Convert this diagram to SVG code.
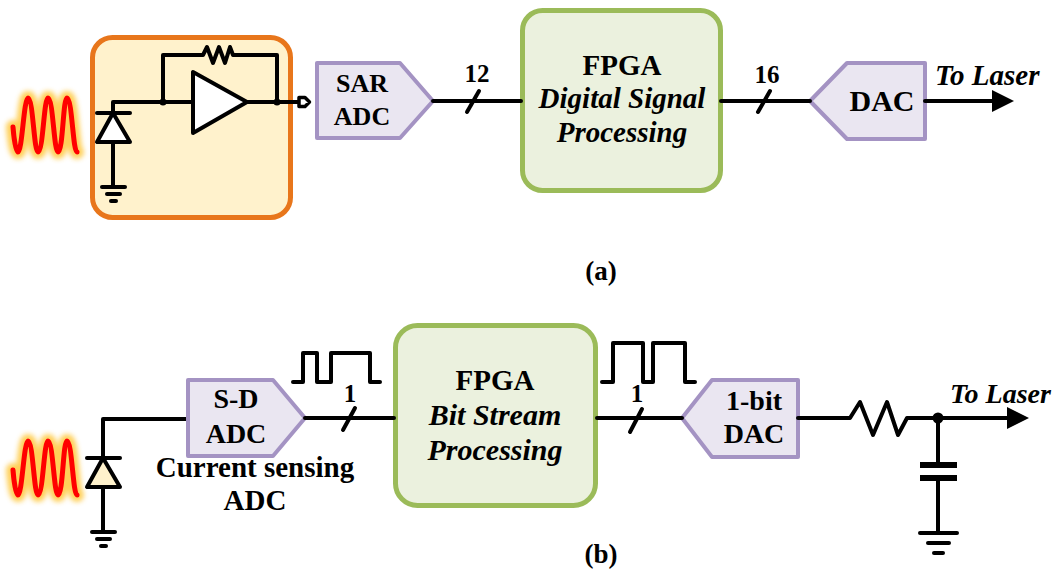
<svg xmlns="http://www.w3.org/2000/svg" width="1060" height="571" viewBox="0 0 1060 571">
  <style>
    .wire { fill: none; stroke: #000; stroke-width: 4; stroke-linejoin: round; stroke-linecap: round; }
    .gnd { stroke: #000; stroke-width: 4; stroke-linecap: round; }
    .conv { fill: #EAE6F1; stroke: #A493C3; stroke-width: 4; stroke-linejoin: round; }
    .fpga { fill: #EBF1DE; stroke: #9BBB59; stroke-width: 5; }
    .tia { fill: #FFF2CC; stroke: #E8761B; stroke-width: 5; }
    .glow { fill: none; stroke: #FFC83D; stroke-width: 14; stroke-linejoin: round; stroke-linecap: round; opacity: 0.85; }
    .wave { fill: none; stroke: #FF0000; stroke-width: 5; stroke-linejoin: round; stroke-linecap: round; }
    text { font-family: 'Liberation Serif', 'Times New Roman', serif; font-weight: 700; text-anchor: middle; fill: #000; }
    .it { font-style: italic; }
    .start { text-anchor: start; }
  </style>
  <defs>
    <filter id="soft" x="-30%" y="-30%" width="160%" height="160%">
      <feGaussianBlur stdDeviation="2.5"/>
    </filter>
    <path id="sine" d="M13,127 C14,140 16,152 18,152 C22,152 24,98 28,98 C33,98 34,152 38,152 C43,152 44,98 48,98 C53,98 54,152 58,152 C63,152 63,98 67,98 C72,98 73,152 77,152"/>
  </defs>

  <!-- (a) incoming light -->
  <g id="light-a">
    <use href="#sine" class="glow" filter="url(#soft)"/>
    <use href="#sine" class="wave"/>
  </g>

  <!-- (a) transimpedance front end -->
  <g id="tia">
    <rect class="tia" x="92.5" y="37.5" width="198" height="180" rx="20"/>
    <path class="wire" d="M113,113 V102 H193"/>
    <path class="wire" d="M113,142 V187"/>
    <polygon points="113,113 97,142 130,142" fill="#fff" stroke="#000" stroke-width="4" stroke-linejoin="round"/>
    <line class="gnd" x1="97" y1="113" x2="130" y2="113"/>
    <line class="gnd" x1="102" y1="187" x2="125" y2="187"/>
    <line class="gnd" x1="107" y1="194" x2="120" y2="194"/>
    <line class="gnd" x1="111" y1="201" x2="116" y2="201"/>
    <path class="wire" d="M163,102 V55 H203 L207,47 L213,63 L219,47 L225,63 L230,47 L233,55 H277 V102"/>
    <polygon points="193,72 193,133 247,102" fill="#fff" stroke="#000" stroke-width="4" stroke-linejoin="round"/>
    <path class="wire" d="M247,102 H299"/>
    <circle cx="163" cy="102" r="3.5"/>
    <circle cx="277" cy="102" r="3.5"/>
    <path d="M299,97.5 H305 L309.5,102 L305,106.5 H299 Z" fill="#fff" stroke="#000" stroke-width="3.5" stroke-linejoin="round"/>
  </g>

  <!-- (a) SAR ADC -->
  <g id="sar-adc">
    <polygon class="conv" points="317,63 400,63 433,101 400,138 317,138"/>
    <text x="362" y="92" font-size="26">SAR</text>
    <text x="362" y="125" font-size="26">ADC</text>
  </g>

  <!-- (a) FPGA -->
  <g id="fpga-a">
    <rect class="fpga" x="522.5" y="10.5" width="198" height="180" rx="20"/>
    <text x="622" y="75" font-size="29">FPGA</text>
    <text class="it" x="622" y="108" font-size="29">Digital Signal</text>
    <text class="it" x="622" y="142" font-size="29">Processing</text>
  </g>

  <!-- (a) DAC -->
  <g id="dac-a">
    <polygon class="conv" points="810,101 847,63 925,63 925,139 847,139"/>
    <text x="882" y="111" font-size="30">DAC</text>
  </g>

  <!-- (b) incoming light -->
  <g id="light-b" transform="translate(0,343)">
    <use href="#sine" class="glow" filter="url(#soft)"/>
    <use href="#sine" class="wave"/>
  </g>

  <!-- (b) photodiode -->
  <g id="photodiode-b">
    <path class="wire" d="M103,458 V419 H188"/>
    <path class="wire" d="M103,487 V532"/>
    <polygon points="103,458 87,487 120,487" fill="#FFF2CC" stroke="#000" stroke-width="4" stroke-linejoin="round"/>
    <line class="gnd" x1="87" y1="458" x2="120" y2="458"/>
    <line class="gnd" x1="92" y1="532" x2="115" y2="532"/>
    <line class="gnd" x1="97" y1="539" x2="110" y2="539"/>
    <line class="gnd" x1="101" y1="546" x2="106" y2="546"/>
  </g>

  <!-- (b) delta-sigma ADC -->
  <g id="sd-adc">
    <polygon class="conv" points="188,380 273,380 305,418 273,456 188,456"/>
    <text x="236" y="408" font-size="28">S-D</text>
    <text x="236" y="443" font-size="28">ADC</text>
    <text x="255" y="477" font-size="29">Current sensing</text>
    <text x="255" y="510" font-size="29">ADC</text>
  </g>

  <!-- (b) FPGA -->
  <g id="fpga-b">
    <rect class="fpga" x="395.5" y="325.5" width="200" height="180" rx="22"/>
    <text x="495" y="390" font-size="29">FPGA</text>
    <text class="it" x="495" y="425" font-size="30">Bit Stream</text>
    <text class="it" x="495" y="460" font-size="30">Processing</text>
  </g>

  <!-- (b) 1-bit DAC -->
  <g id="dac-b">
    <polygon class="conv" points="682,418 712,380 798,380 798,457 712,457"/>
    <text x="754" y="410" font-size="28">1-bit</text>
    <text x="754" y="443" font-size="28">DAC</text>
  </g>

  <!-- (b) RC output filter -->
  <g id="rc-filter">
    <path class="wire" d="M938,418 V465"/>
    <path class="wire" d="M938,478 V533"/>
    <line x1="920" y1="465" x2="957" y2="465" stroke="#000" stroke-width="6"/>
    <line x1="920" y1="478" x2="957" y2="478" stroke="#000" stroke-width="6"/>
    <line class="gnd" x1="920" y1="533" x2="957" y2="533"/>
    <line class="gnd" x1="928" y1="543" x2="949" y2="543"/>
    <line class="gnd" x1="934" y1="553" x2="943" y2="553"/>
    <circle cx="938" cy="418" r="5.5"/>
  </g>

  <!-- connectors, bus ticks and waveforms -->
  <g id="connectors">
    <path class="wire" d="M433,101 H521"/>
    <line class="wire" x1="467" y1="112" x2="479" y2="91"/>
    <text x="477" y="82" font-size="25">12</text>

    <path class="wire" d="M721,101 H810"/>
    <line class="wire" x1="758" y1="112" x2="770" y2="91"/>
    <text x="767" y="83" font-size="25">16</text>

    <path class="wire" d="M925,101 H993"/>
    <polygon points="992,90 1014,101 992,112"/>
    <text class="it start" x="935" y="85" font-size="29">To Laser</text>

    <path class="wire" d="M305,418 H394"/>
    <line class="wire" x1="343" y1="430" x2="355" y2="408"/>
    <text x="350" y="402" font-size="25">1</text>
    <path class="wire" d="M293,382 H303 V353 H317 V382 H331 V353 H370 V382 H380"/>

    <path class="wire" d="M597,418 H682"/>
    <line class="wire" x1="630" y1="432" x2="642" y2="409"/>
    <text x="637" y="402" font-size="25">1</text>
    <path class="wire" d="M602,382 H613 V343 H643 V382 H653 V343 H685 V382 H695"/>

    <path class="wire" d="M798,418 H850 L860,402 L873,435 L887,402 L898,435 L907,418 H1008"/>
    <polygon points="1007,407 1029,418 1007,429"/>
    <text class="it start" x="950" y="403" font-size="28">To Laser</text>
  </g>

  <!-- sub-figure captions -->
  <text x="601" y="280" font-size="27">(a)</text>
  <text x="601" y="563" font-size="27">(b)</text>
</svg>
